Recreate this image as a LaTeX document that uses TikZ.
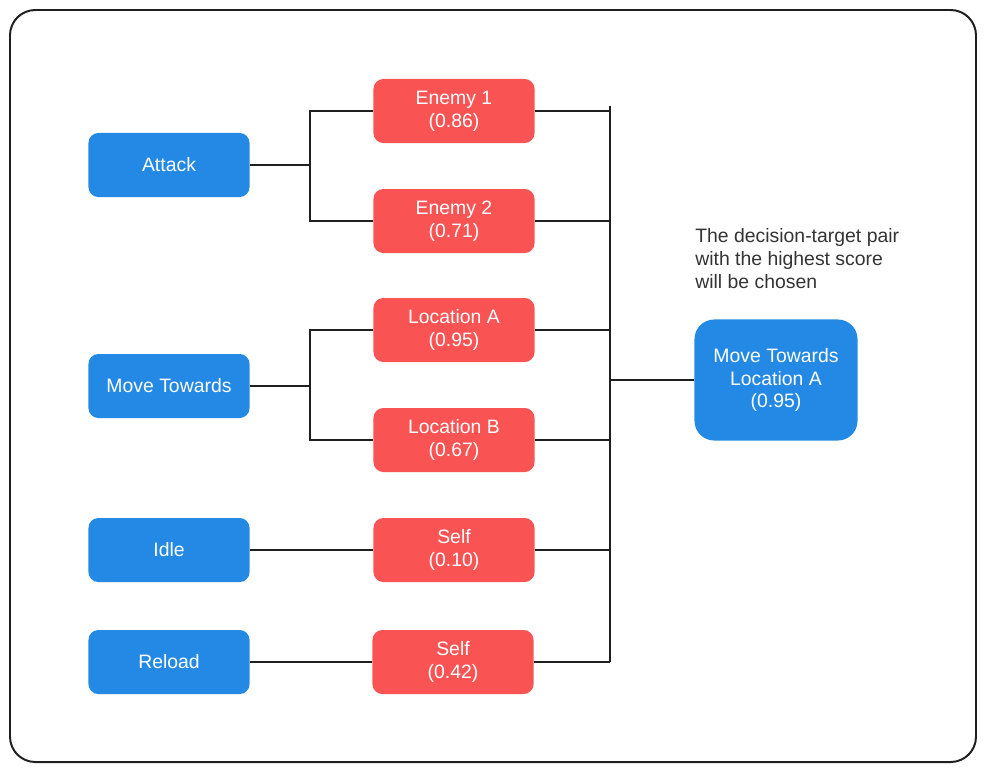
\documentclass[tikz,border=0pt]{standalone}
\usepackage{fontspec}
\setmainfont{Liberation Sans}
\usetikzlibrary{positioning}
\definecolor{actionblue}{RGB}{35,137,229}
\definecolor{targetred}{RGB}{250,83,83}
\definecolor{notegray}{RGB}{51,51,51}

\begin{document}
\begin{tikzpicture}[x=0.025cm, y=-0.025cm,
			actionnode/.style={rectangle, rounded corners=7pt, fill=actionblue, text=white, minimum width=4.025cm, minimum height=1.6cm, align=center, font=\fontsize{13.8}{16.3}\selectfont},
			targetnode/.style={rectangle, rounded corners=7pt, fill=targetred, text=white, minimum width=4.025cm, minimum height=1.6cm, align=center, font=\fontsize{13.8}{16.3}\selectfont},
			resultnode/.style={rectangle, rounded corners=14pt, fill=actionblue, text=white, minimum width=4.075cm, minimum height=3.025cm, align=center, font=\fontsize{13.8}{16.3}\selectfont},
			link/.style={line width=1.4pt, draw=black!88},
			]
			\useasboundingbox (0,0) rectangle (985,772);
			\draw[line width=1.4pt, draw=black!88, rounded corners=18pt] (10,10) rectangle (976,762);
			
			%Nodes
			\node[actionnode] (Attack) at (169,165) {Attack};
			\node[actionnode] (MoveTowards) at (169,386) {Move Towards};
			\node[actionnode] (Idle) at (169,550) {Idle};
			\node[actionnode] (Reload) at (169,662) {Reload};
			
			\node[targetnode] (EnemyOne) at (454,111) {Enemy 1\\(0.86)};
			\node[targetnode] (EnemyTwo) at (454,221) {Enemy 2\\(0.71)};
			\node[targetnode] (LocationA) at (454,330) {Location A\\(0.95)};
			\node[targetnode] (LocationB) at (454,440) {Location B\\(0.67)};
			\node[targetnode] (SelfIdle) at (454,550) {Self\\(0.10)};
			\node[targetnode] (SelfReload) at (453,662) {Self\\(0.42)};
			
			\node[resultnode] (Chosen) at (776,380) {Move Towards\\Location A\\(0.95)};
			\node[anchor=north west, inner sep=0pt, align=left, text=notegray, font=\fontsize{13.8}{16.3}\selectfont] (Note) at (695,228) {The decision-target pair\\with the highest score\\will be chosen};
			
			\coordinate (AttackJoin) at (310,165);
			\coordinate (MoveJoin) at (310,386);
			\coordinate (CollectTop) at (610,106);
			\coordinate (CollectBottom) at (610,662);
			\coordinate (Collect) at (610,380);
			
			%Lines
			\draw[link] (Attack.east) -- (AttackJoin);
			\draw[link] (EnemyOne.west) -| (AttackJoin) |- (EnemyTwo.west);
			\draw[link] (MoveTowards.east) -- (MoveJoin);
			\draw[link] (LocationA.west) -| (MoveJoin) |- (LocationB.west);
			\draw[link] (Idle.east) -- (SelfIdle.west);
			\draw[link] (Reload.east) -- (SelfReload.west);
			
			\draw[link] (CollectTop) -- (CollectBottom);
			\foreach \t in {EnemyOne, EnemyTwo, LocationA, LocationB, SelfIdle, SelfReload}
				\draw[link] (\t.east) -- (CollectTop |- \t.east);
			\draw[link] (Chosen.west) -- (Collect);
		\end{tikzpicture}
\end{document}
